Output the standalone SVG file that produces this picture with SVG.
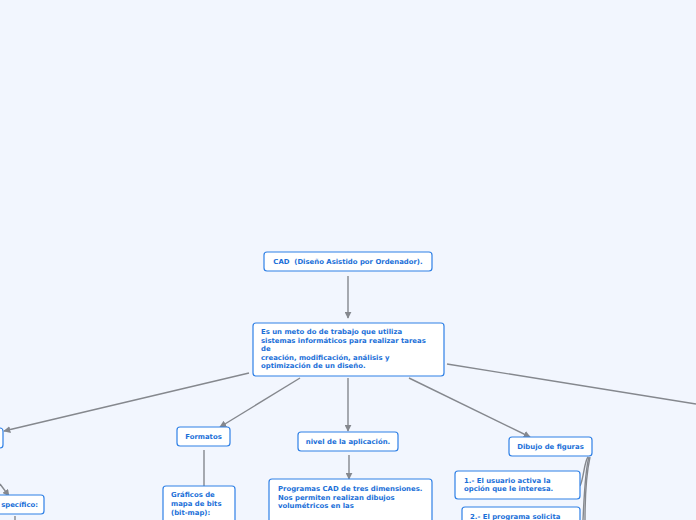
<svg xmlns="http://www.w3.org/2000/svg" width="696" height="520" viewBox="0 0 696 520">
<defs>
<marker id="arr" viewBox="0 0 10 10" refX="9" refY="5" markerWidth="7" markerHeight="7" markerUnits="userSpaceOnUse" orient="auto">
<path d="M0,0 L10,5 L0,10 z" fill="#85888e"/>
</marker>
<style>
.box{fill:#ffffff;stroke:#2f80e6;stroke-width:1.2}
.t{font-family:"DejaVu Sans",Verdana,sans-serif;font-weight:bold;font-size:6.9px;fill:#1a6fd8;white-space:pre}
.c{fill:none;stroke:#85888e;stroke-width:1.4}
</style>
</defs>
<rect width="696" height="520" fill="#f2f6fe"/>
<g id="connectors">
<line class="c" x1="348" y1="276" x2="348" y2="318" marker-end="url(#arr)"/>
<line class="c" x1="249" y1="373" x2="4" y2="431" marker-end="url(#arr)"/>
<line class="c" x1="300" y1="378" x2="220" y2="427" marker-end="url(#arr)"/>
<line class="c" x1="348" y1="378" x2="348" y2="431" marker-end="url(#arr)"/>
<line class="c" x1="409" y1="378" x2="530" y2="437" marker-end="url(#arr)"/>
<line class="c" x1="447" y1="364" x2="696" y2="404"/>
<line class="c" x1="204" y1="450" x2="204" y2="486"/>
<line class="c" x1="349" y1="455" x2="349" y2="479" marker-end="url(#arr)"/>
<line class="c" x1="0" y1="484" x2="9" y2="496" marker-end="url(#arr)"/>
<line class="c" x1="15" y1="516" x2="15" y2="520"/>
<path class="c" d="M588,457 C584,462 584,478 580,486"/>
<path class="c" d="M589,457 C585,470 584,500 583,520"/>
<path class="c" d="M590,457 C586,475 585,505 585,520"/>
</g>
<g id="n-cad">
<rect class="box" x="264" y="252" width="168" height="19" rx="3"/>
<text class="t" x="348" y="264" text-anchor="middle" xml:space="preserve">CAD  (Diseño Asistido por Ordenador).</text>
</g>
<g id="n-main">
<rect class="box" x="253" y="323" width="191" height="53" rx="3"/>
<text class="t" x="261" y="334">Es un meto do de trabajo que utiliza</text>
<text class="t" x="261" y="343">sistemas informáticos para realizar tareas</text>
<text class="t" x="261" y="351">de</text>
<text class="t" x="261" y="360">creación, modificación, análisis y</text>
<text class="t" x="261" y="368">optimización de un diseño.</text>
</g>
<g id="n-left">
<rect class="box" x="-20" y="428" width="23" height="20" rx="3"/>
</g>
<g id="n-formatos">
<rect class="box" x="177" y="427" width="53" height="19" rx="3"/>
<text class="t" x="203.5" y="439" text-anchor="middle">Formatos</text>
</g>
<g id="n-nivel">
<rect class="box" x="298" y="432" width="100" height="19" rx="3"/>
<text class="t" x="348" y="444" text-anchor="middle">nivel de la aplicación.</text>
</g>
<g id="n-dibujo">
<rect class="box" x="509" y="437" width="83" height="19" rx="3"/>
<text class="t" x="550.5" y="449" text-anchor="middle">Dibujo de figuras</text>
</g>
<g id="n-especifico">
<rect class="box" x="-30" y="495" width="74" height="19" rx="3"/>
<text class="t" x="38" y="507" text-anchor="end">specífico:</text>
</g>
<g id="n-graficos">
<rect class="box" x="163" y="486" width="72" height="44" rx="3"/>
<text class="t" x="171" y="497">Gráficos de</text>
<text class="t" x="171" y="506">mapa de bits</text>
<text class="t" x="171" y="515">(bit-map):</text>
</g>
<g id="n-programas">
<rect class="box" x="269" y="479" width="163" height="50" rx="3"/>
<text class="t" x="278" y="491">Programas CAD de tres dimensiones.</text>
<text class="t" x="278" y="500">Nos permiten realizan dibujos</text>
<text class="t" x="278" y="508">volumétricos en las</text>
</g>
<g id="n-paso1">
<rect class="box" x="455" y="471" width="125" height="28" rx="3"/>
<text class="t" x="464" y="483">1.- El usuario activa la</text>
<text class="t" x="464" y="491">opción que le interesa.</text>
</g>
<g id="n-paso2">
<rect class="box" x="462" y="507" width="118" height="25" rx="3"/>
<text class="t" x="470" y="519">2.- El programa solicita</text>
</g>
</svg>
